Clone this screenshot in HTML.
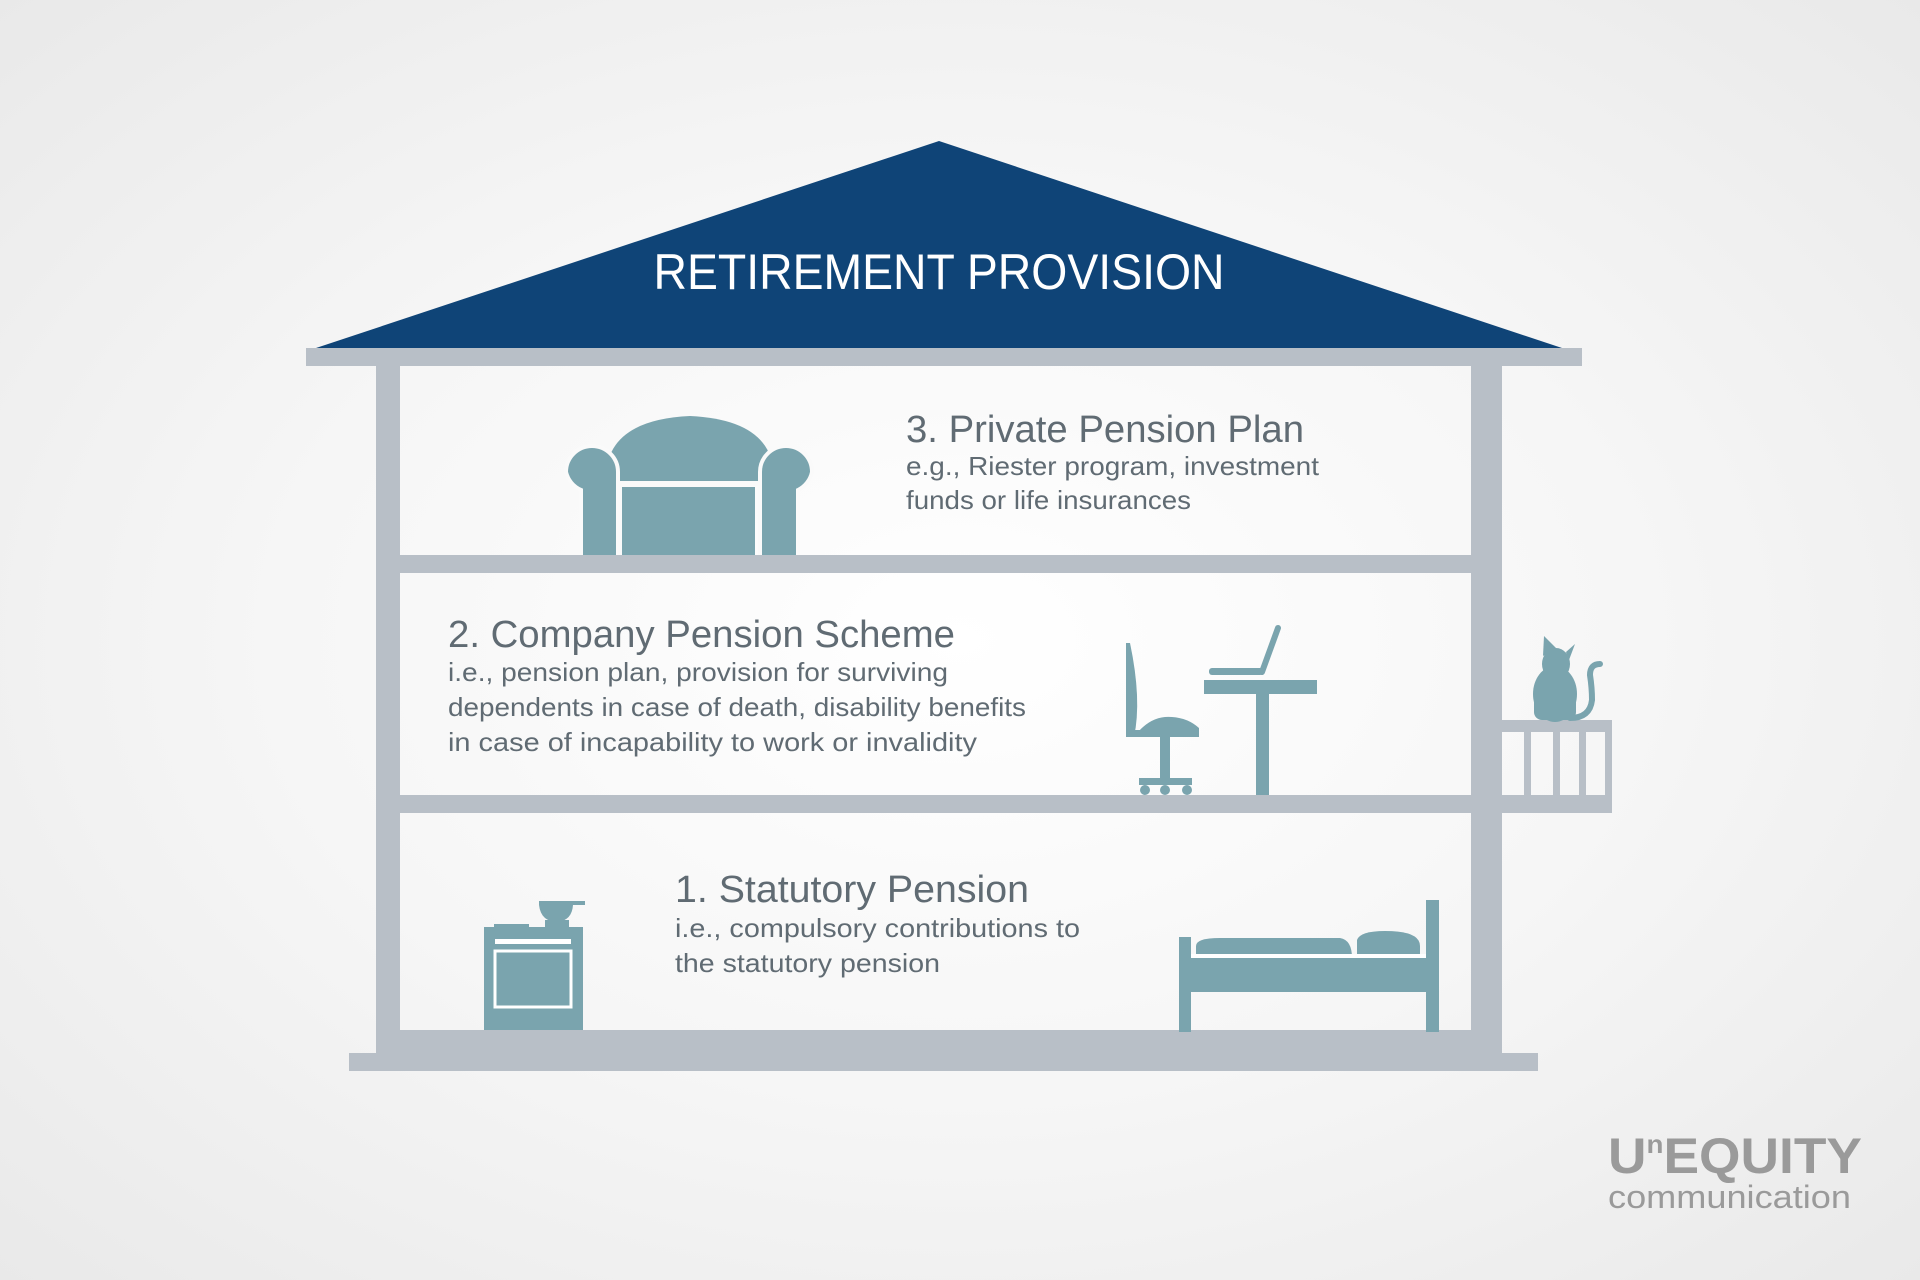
<!DOCTYPE html>
<html><head><meta charset="utf-8"><style>
html,body{margin:0;padding:0}
body{width:1920px;height:1280px;overflow:hidden;background:radial-gradient(ellipse at 50% 50%,#ffffff 0%,#f6f6f6 50%,#e9e9e9 100%)}
svg{display:block}
text{font-family:"Liberation Sans",sans-serif}
</style></head><body>
<svg width="1920" height="1280" viewBox="0 0 1920 1280">
<polygon points="939,141 316,348 1562,348" fill="#0f4477"/>
<text x="939" y="289" text-anchor="middle" fill="#fff" font-size="50" textLength="571" lengthAdjust="spacingAndGlyphs">RETIREMENT PROVISION</text>
<g fill="#7aa4ae">
<!-- armchair -->
<path d="M606,481 Q604,420 690,416 Q776,420 774,481 Z"/>
<rect x="620" y="441" width="138" height="42"/>
<rect x="622" y="487" width="133" height="68"/>
<g stroke="#fafafa" stroke-width="4">
<path d="M566,472 A26,26 0 0 1 618,472 L618,560 L581,560 L581,490 A26,26 0 0 1 566,472 Z"/>
<path d="M812,472 A26,26 0 0 0 760,472 L760,560 L798,560 L798,490 A26,26 0 0 0 812,472 Z"/>
</g>
</g>
<rect x="618" y="481" width="142" height="5" fill="#fafafa"/>
<g fill="#b8bfc7">
<rect x="306" y="348" width="1276" height="18"/>
<rect x="376" y="366" width="24" height="687"/>
<rect x="1471" y="366" width="31" height="687"/>
<rect x="400" y="555" width="1071" height="18"/>
<rect x="400" y="795" width="1212" height="18"/>
<rect x="376" y="1030" width="1126" height="23"/>
<rect x="349" y="1053" width="1189" height="18"/>
<rect x="1502" y="720" width="110" height="12"/>
<rect x="1524" y="732" width="7" height="63"/>
<rect x="1553" y="732" width="7" height="63"/>
<rect x="1579" y="732" width="7" height="63"/>
<rect x="1605" y="732" width="7" height="63"/>
</g>
<g fill="#7aa4ae">
<!-- chair -->
<path d="M1126,643 L1130,643 Q1142,700 1134,737 L1126,737 Z"/>
<path d="M1126,737 L1134,737 Q1150,715 1172,717 Q1188,718 1199,728 L1199,737 Z"/>
<rect x="1126" y="730" width="73" height="7"/>
<rect x="1160" y="737" width="10" height="41"/>
<rect x="1139" y="778" width="53" height="7"/>
<circle cx="1145" cy="790" r="5"/><circle cx="1165" cy="790" r="5"/><circle cx="1187" cy="790" r="5"/>
<!-- desk -->
<rect x="1204" y="680" width="113" height="14"/>
<rect x="1256" y="694" width="13" height="101"/>
<rect x="1209" y="668" width="54" height="7" rx="3"/>
<line x1="1262" y1="672" x2="1278" y2="628" stroke="#7aa4ae" stroke-width="6" stroke-linecap="round"/>
<!-- cat -->
<ellipse cx="1555" cy="694" rx="22" ry="28"/>
<ellipse cx="1556" cy="664" rx="14" ry="16"/>
<polygon points="1543,656 1544,636 1556,648"/>
<polygon points="1566,652 1575,644 1569,660"/>
<rect x="1534" y="695" width="42" height="25" rx="8"/>
<path d="M1570,718 Q1590,718 1592,700 Q1592,688 1590,675 Q1590,664 1600,664" stroke="#7aa4ae" stroke-width="6" fill="none" stroke-linecap="round"/>
<!-- stove -->
<rect x="484" y="927" width="99" height="103"/>
<rect x="494" y="924" width="35" height="5"/>
<path d="M539,901 L585,901 L585,905 L573,905 Q572,920 558,922 Q541,922 539,905 Z"/>
<rect x="545" y="920" width="24" height="7"/>
<!-- bed -->
<rect x="1179" y="937" width="12" height="95"/>
<rect x="1426" y="900" width="13" height="132"/>
<rect x="1179" y="958" width="260" height="34"/>
<path d="M1196,958 L1196,946 Q1196,938 1220,938 L1340,938 Q1352,940 1352,958 Z"/>
<path d="M1357,958 L1357,940 Q1360,931 1385,931 Q1420,931 1420,946 L1420,958 Z"/>
</g>
<g fill="none" stroke="#fff" stroke-width="3">
<rect x="495" y="951" width="76" height="56"/>
</g>
<rect x="495" y="939" width="76" height="5" fill="#fff"/>
<rect x="1191" y="954" width="235" height="4" fill="#fff"/>
<g fill="#606b73">
<text x="906" y="442" font-size="38" textLength="398" lengthAdjust="spacingAndGlyphs">3. Private Pension Plan</text>
<text x="906" y="475" font-size="26" textLength="413" lengthAdjust="spacingAndGlyphs">e.g., Riester program, investment</text>
<text x="906" y="509" font-size="26" textLength="285" lengthAdjust="spacingAndGlyphs">funds or life insurances</text>
<text x="448" y="647" font-size="38" textLength="507" lengthAdjust="spacingAndGlyphs">2. Company Pension Scheme</text>
<text x="448" y="681" font-size="26" textLength="500" lengthAdjust="spacingAndGlyphs">i.e., pension plan, provision for surviving</text>
<text x="448" y="716" font-size="26" textLength="578" lengthAdjust="spacingAndGlyphs">dependents in case of death, disability benefits</text>
<text x="448" y="751" font-size="26" textLength="529" lengthAdjust="spacingAndGlyphs">in case of incapability to work or invalidity</text>
<text x="675" y="902" font-size="38" textLength="354" lengthAdjust="spacingAndGlyphs">1. Statutory Pension</text>
<text x="675" y="937" font-size="26" textLength="405" lengthAdjust="spacingAndGlyphs">i.e., compulsory contributions to</text>
<text x="675" y="972" font-size="26" textLength="265" lengthAdjust="spacingAndGlyphs">the statutory pension</text>
</g>
<g fill="#9a9a9a">
<text x="1608" y="1173" font-size="50" font-weight="bold" textLength="254" lengthAdjust="spacingAndGlyphs">U<tspan font-size="26" dy="-20">n</tspan><tspan dy="20">EQUITY</tspan></text>
<text x="1608" y="1208" font-size="32" textLength="243" lengthAdjust="spacingAndGlyphs">communication</text>
</g>
</svg>
</body></html>
